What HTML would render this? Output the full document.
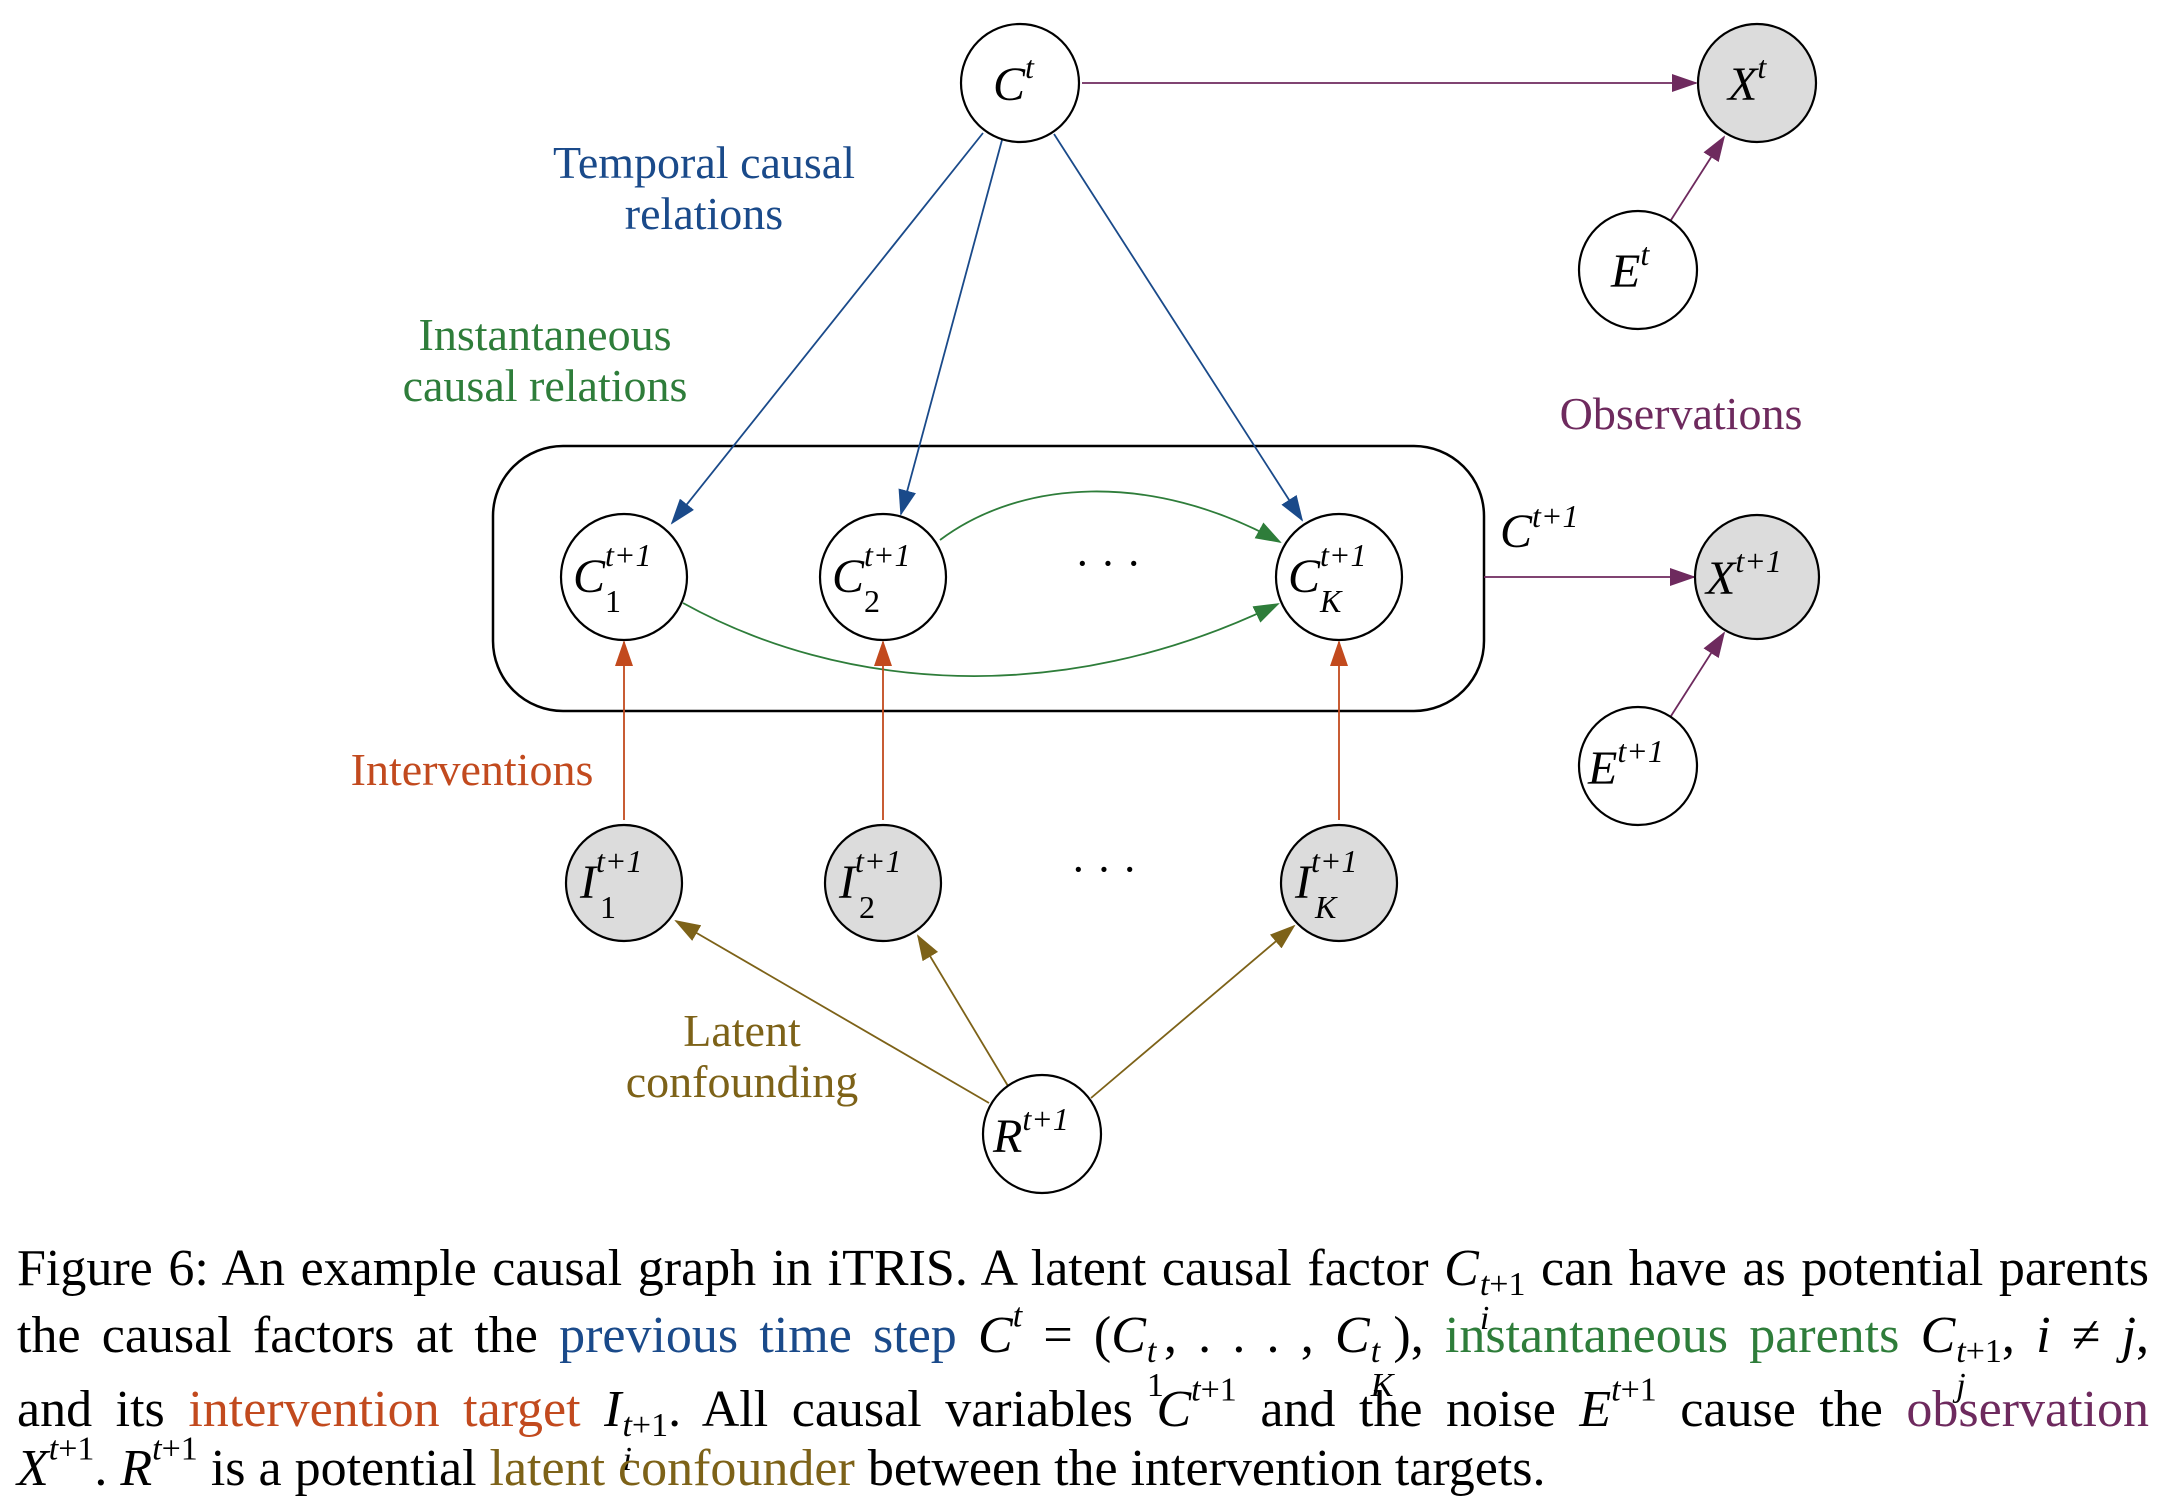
<!DOCTYPE html>
<html><head><meta charset="utf-8"><style>
html,body{margin:0;padding:0;background:#fff;}
body{width:2164px;height:1499px;position:relative;overflow:hidden;font-family:"Liberation Serif",serif;}
svg{position:absolute;left:0;top:0;}
.cap{position:absolute;left:17px;width:2132px;font-size:52px;line-height:1;white-space:nowrap;color:#000;}
.j{text-align:justify;text-align-last:justify;}
i{font-style:italic;}
sup{font-size:34px;line-height:0;vertical-align:0.75em;}
.ss{display:inline-flex;flex-direction:column;vertical-align:-0.3em;line-height:1;font-size:34px;margin-left:1px;}
.ss span:first-child{margin-top:-0.55em}
.b{color:#1a4a8a}.g{color:#2e7d3a}.o{color:#c24a1e}.p{color:#6e2a5e}.y{color:#7d6218}
</style></head><body>
<svg width="2164" height="1499" viewBox="0 0 2164 1499" font-family="Liberation Serif, serif">
<defs>
<marker id="mb" markerWidth="26" markerHeight="18" refX="24" refY="9" orient="auto" markerUnits="userSpaceOnUse" viewBox="0 0 26 18"><path d="M0,0L26,9L0,18z" fill="#1a4a8a"/></marker>
<marker id="mg" markerWidth="26" markerHeight="18" refX="24" refY="9" orient="auto" markerUnits="userSpaceOnUse" viewBox="0 0 26 18"><path d="M0,0L26,9L0,18z" fill="#2e7d3a"/></marker>
<marker id="mo" markerWidth="26" markerHeight="18" refX="24" refY="9" orient="auto" markerUnits="userSpaceOnUse" viewBox="0 0 26 18"><path d="M0,0L26,9L0,18z" fill="#c24a1e"/></marker>
<marker id="mp" markerWidth="26" markerHeight="18" refX="24" refY="9" orient="auto" markerUnits="userSpaceOnUse" viewBox="0 0 26 18"><path d="M0,0L26,9L0,18z" fill="#6e2a5e"/></marker>
<marker id="my" markerWidth="26" markerHeight="18" refX="24" refY="9" orient="auto" markerUnits="userSpaceOnUse" viewBox="0 0 26 18"><path d="M0,0L26,9L0,18z" fill="#7d6218"/></marker>
</defs>
<rect x="493" y="446" width="991" height="265" rx="70" fill="none" stroke="#000" stroke-width="2.5"/>
<g stroke="#1a4a8a" stroke-width="1.8" fill="none">
<line x1="983" y1="133" x2="672" y2="523" marker-end="url(#mb)"/>
<line x1="1002" y1="140" x2="901" y2="514" marker-end="url(#mb)"/>
<line x1="1054" y1="134" x2="1302" y2="520" marker-end="url(#mb)"/>
</g>
<g stroke="#6e2a5e" stroke-width="1.8" fill="none">
<line x1="1082" y1="83" x2="1696" y2="83" marker-end="url(#mp)"/>
<line x1="1671" y1="220" x2="1724" y2="137" marker-end="url(#mp)"/>
<line x1="1484" y1="577" x2="1694" y2="577" marker-end="url(#mp)"/>
<line x1="1671" y1="716" x2="1724" y2="633" marker-end="url(#mp)"/>
</g>
<g stroke="#2e7d3a" stroke-width="1.8" fill="none">
<path d="M940,540 C1020,480 1150,470 1280,542" marker-end="url(#mg)"/>
<path d="M683,603 C840,690 1060,710 1278,604" marker-end="url(#mg)"/>
</g>
<g stroke="#c24a1e" stroke-width="1.8" fill="none">
<line x1="624" y1="820" x2="624" y2="642" marker-end="url(#mo)"/>
<line x1="883" y1="820" x2="883" y2="642" marker-end="url(#mo)"/>
<line x1="1339" y1="820" x2="1339" y2="642" marker-end="url(#mo)"/>
</g>
<g stroke="#7d6218" stroke-width="1.8" fill="none">
<line x1="989" y1="1103" x2="676" y2="921" marker-end="url(#my)"/>
<line x1="1008" y1="1086" x2="918" y2="936" marker-end="url(#my)"/>
<line x1="1091" y1="1098" x2="1294" y2="926" marker-end="url(#my)"/>
</g>
<g stroke="#000" stroke-width="2.2">
<circle cx="1020" cy="83" r="59" fill="#fff"/>
<circle cx="1757" cy="83" r="59" fill="#dcdcdc"/>
<circle cx="1638" cy="270" r="59" fill="#fff"/>
<circle cx="624" cy="577" r="63" fill="#fff"/>
<circle cx="883" cy="577" r="63" fill="#fff"/>
<circle cx="1339" cy="577" r="63" fill="#fff"/>
<circle cx="1757" cy="577" r="62" fill="#dcdcdc"/>
<circle cx="1638" cy="766" r="59" fill="#fff"/>
<circle cx="624" cy="883" r="58" fill="#dcdcdc"/>
<circle cx="883" cy="883" r="58" fill="#dcdcdc"/>
<circle cx="1339" cy="883" r="58" fill="#dcdcdc"/>
<circle cx="1042" cy="1134" r="59" fill="#fff"/>
</g>
<g font-size="48" fill="#000" font-style="italic">
<text x="993" y="100">C<tspan font-size="32" dy="-22">t</tspan></text>
<text x="1728" y="100">X<tspan font-size="32" dy="-22">t</tspan></text>
<text x="1611" y="287">E<tspan font-size="32" dy="-22">t</tspan></text>
<text x="573" y="592">C<tspan font-size="32" dy="-26">t+1</tspan><tspan font-size="32" x="605" dy="46" font-style="normal">1</tspan></text>
<text x="832" y="592">C<tspan font-size="32" dy="-26">t+1</tspan><tspan font-size="32" x="864" dy="46" font-style="normal">2</tspan></text>
<text x="1288" y="592">C<tspan font-size="32" dy="-26">t+1</tspan><tspan font-size="32" x="1320" dy="46">K</tspan></text>
<text x="1706" y="594">X<tspan font-size="32" dy="-22">t+1</tspan></text>
<text x="1588" y="784">E<tspan font-size="32" dy="-22">t+1</tspan></text>
<text x="580" y="898">I<tspan font-size="32" dy="-26">t+1</tspan><tspan font-size="32" x="600" dy="46" font-style="normal">1</tspan></text>
<text x="839" y="898">I<tspan font-size="32" dy="-26">t+1</tspan><tspan font-size="32" x="859" dy="46" font-style="normal">2</tspan></text>
<text x="1295" y="898">I<tspan font-size="32" dy="-26">t+1</tspan><tspan font-size="32" x="1315" dy="46">K</tspan></text>
<text x="993" y="1152">R<tspan font-size="32" dy="-22">t+1</tspan></text>
<text x="1500" y="547">C<tspan font-size="32" dy="-20">t+1</tspan></text>
</g>
<text x="1108" y="578" font-size="44" text-anchor="middle">· · ·</text>
<text x="1104" y="884" font-size="44" text-anchor="middle">· · ·</text>
<g font-size="46" text-anchor="middle">
<text x="704" y="178" fill="#1a4a8a">Temporal causal</text>
<text x="704" y="229" fill="#1a4a8a">relations</text>
<text x="545" y="350" fill="#2e7d3a">Instantaneous</text>
<text x="545" y="401" fill="#2e7d3a">causal relations</text>
<text x="1681" y="429" fill="#6e2a5e">Observations</text>
<text x="472" y="785" fill="#c24a1e">Interventions</text>
<text x="742" y="1046" fill="#7d6218">Latent</text>
<text x="742" y="1097" fill="#7d6218">confounding</text>
</g>
</svg>
<div class="cap j" style="top:1243px">Figure 6: An example causal graph in iTRIS. A latent causal factor <i>C</i><span class="ss"><span><i>t</i>+1</span><span><i>i</i></span></span> can have as potential parents</div>
<div class="cap j" style="top:1310px">the causal factors at the <span class="b">previous time step</span> <i>C</i><sup><i>t</i></sup> = (<i>C</i><span class="ss"><span><i>t</i></span><span>1</span></span>, . . . , <i>C</i><span class="ss"><span><i>t</i></span><span><i>K</i></span></span>), <span class="g">instantaneous parents</span> <i>C</i><span class="ss"><span><i>t</i>+1</span><span><i>j</i></span></span>, <i>i</i> ≠ <i>j</i>,</div>
<div class="cap j" style="top:1384px">and its <span class="o">intervention target</span> <i>I</i><span class="ss"><span><i>t</i>+1</span><span><i>i</i></span></span>. All causal variables <i>C</i><sup><i>t</i>+1</sup> and the noise <i>E</i><sup><i>t</i>+1</sup> cause the <span class="p">observation</span></div>
<div class="cap" style="top:1443px"><i>X</i><sup><i>t</i>+1</sup>. <i>R</i><sup><i>t</i>+1</sup> is a potential <span class="y">latent confounder</span> between the intervention targets.</div>
</body></html>
